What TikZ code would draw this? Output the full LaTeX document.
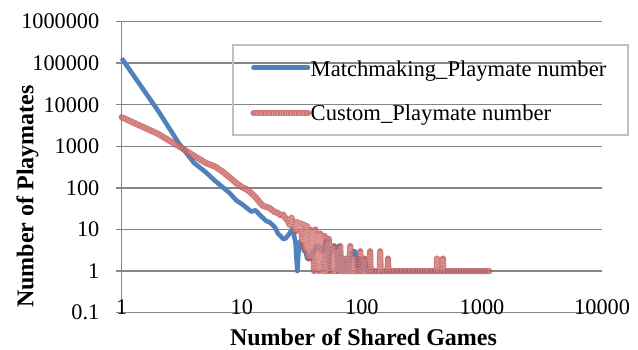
\documentclass[tikz,border=0pt]{standalone}
\usepackage{fontspec}
\setmainfont{Liberation Serif}
\definecolor{gridgray}{RGB}{134,134,134}
\definecolor{legendframe}{RGB}{192,192,192}
\definecolor{mmblue}{RGB}{79,129,189}
\definecolor{cured}{RGB}{196,88,86}
\tikzset{
  gridline/.style={draw=gridgray, line width=1.4pt},
  ticklabel/.style={font=\fontsize{22.3}{26}\selectfont, inner sep=0pt},
  axistitle/.style={font=\bfseries\fontsize{24}{28}\selectfont, inner sep=0pt},
  legendtext/.style={font=\fontsize{22.6}{26}\selectfont, inner sep=0pt, anchor=base west},
  mmline/.style={draw=mmblue, line width=4.6pt, line join=round},
  culine/.style={draw=cured, line width=6.2pt, line join=round, line cap=round, opacity=0.82},
  cutexture/.style={draw=white, line width=4.4pt, opacity=0.22, dash pattern=on 1pt off 1.6pt, line join=round}
}
\begin{document}
\begin{tikzpicture}[x=1pt,y=-1pt]
\useasboundingbox (0,0) rectangle (638,349);

% horizontal gridlines, one per decade from 0.1 to 1000000
\foreach \k/\lab in {-1/0.1,0/1,1/10,2/100,3/1000,4/10000,5/100000,6/1000000}{
  \draw[gridline] (115.7,{271.1-41.6*\k}) -- (602,{271.1-41.6*\k});
  \node[ticklabel, anchor=east] (ylab\k) at (99.5,{271.1-41.6*\k}) {\lab};
}
% vertical axis
\draw[gridline] (121.7,21.7) -- (121.7,312.7);

% x tick labels
\foreach \k/\lab in {0/1,1/10,2/100,3/1000,4/10000}{
  \node[ticklabel, anchor=base] (xlab\k) at ({121.7+120.1*\k},314.3) {\lab};
}

% axis titles
\node[axistitle, anchor=base] (xtitle) at (363.5,345) {Number of Shared Games};
\node[axistitle, anchor=base, rotate=90] (ytitle) at (33.3,196.5) {Number of Playmates};

% data in log-log coordinates: (log10 games, log10 playmates)
\begin{scope}[shift={(121.7,271.1)}, x=120.1pt, y=41.6pt]
  \draw[mmline] (0,5.114) \foreach \n/\v in {
    2/7300, 3/1170, 4/400, 5/240, 6/147, 7/102, 8/73, 9/50, 10/41,
    11/33, 12/27, 13/29, 14/23, 15/19, 16/16, 17/15, 18/13, 19/11, 20/8,
    21/7, 22/6, 23/6, 24/7, 25/8, 26/10, 27/8, 28/5, 29/1, 30/5,
    31/4, 32/4, 33/3, 34/3, 35/2, 36/2, 37/2, 38/2, 39/3, 40/3,
    42/4, 44/4, 46/3, 48/3, 50/5, 52/6, 53/1, 54/3, 56/3, 58/4, 60/4,
    62/2, 63/1, 64/4, 66/2, 68/1, 70/2, 72/1, 75/2, 78/1, 80/2, 84/3,
    88/3, 90/2, 92/1, 95/2, 98/1, 105/2, 110/1, 1100/1}
    { -- ({log10(\n)},{log10(\v)}) };

  \foreach \st in {culine, cutexture}{
  \draw[\st] (0,{log10(5000)}) \foreach \n/\v in {
    2/2000, 3/1000, 4/590, 5/400, 6/325, 7/240, 8/175, 9/130, 10/105,
    11/92, 12/75, 13/60, 14/46, 15/37, 16/35, 17/33, 18/29, 19/26, 20/25,
    21/22, 22/23, 23/19, 24/17, 25/13, 26/19, 27/13, 28/9, 29/15, 30/10,
    31/14, 32/5, 33/13, 34/3, 35/12, 36/2, 37/10, 38/2, 39/9, 40/1,
    41/10, 42/2, 43/8, 44/1, 45/8, 46/2, 47/6, 48/1, 49/7, 50/1,
    51/5, 52/1, 53/6, 54/1, 55/4, 56/1, 57/3, 58/4, 59/1, 60/3,
    61/1, 62/3, 63/1, 64/2, 65/1, 66/4, 67/1, 68/2, 69/1, 70/2, 71/1,
    73/1, 74/2, 75/1, 76/2, 77/1,
    79/1, 80/4, 81/1, 85/1, 86/2, 87/1, 96/1, 97/3, 98/1, 104/1, 105/2, 106/1,
    116/1, 117/3, 118/1, 141/1, 142/3, 143/1, 164/1, 165/2, 166/1,
    421/1, 422/2, 423/1, 472/1, 473/2, 474/1, 1150/1}
    { -- ({log10(\n)},{log10(\v)}) };
  }
\end{scope}

% legend
\draw[draw=legendframe, line width=1.2pt] (233,45) rectangle (628,135);
\coordinate (mmA) at (253.5,67.7);
\coordinate (mmB) at (308,67.7);
\coordinate (cuA) at (253.5,113.3);
\coordinate (cuB) at (308,113.3);
\draw[mmline, line cap=round] (mmA) -- (mmB);
\draw[culine] (cuA) -- (cuB);
\draw[cutexture] (cuA) -- (cuB);
\node[legendtext] (mmtext) at (310.5,76.5) {Matchmaking\_Playmate number};
\node[legendtext] (cutext) at (310.5,120.7) {Custom\_Playmate number};
\end{tikzpicture}
\end{document}
